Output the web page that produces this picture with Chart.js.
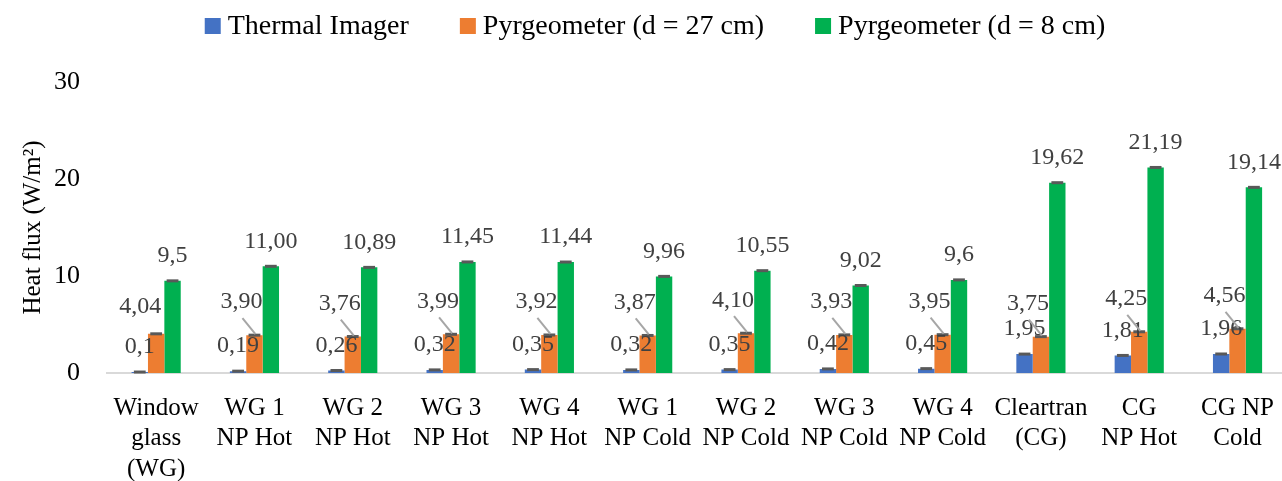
<!DOCTYPE html>
<html>
<head>
<meta charset="utf-8">
<script src="https://cdn.jsdelivr.net/npm/chart.js@4.4.1/dist/chart.umd.min.js"></script>
<style>
  html, body { margin: 0; padding: 0; background: #fff; overflow: hidden; }
  #wrap { width: 1294px; height: 481px; position: relative; }
</style>
</head>
<body>
<div id="wrap"><canvas id="c"></canvas></div>
<script>
const categories = [
  ["Window", "glass", "(WG)"],
  ["WG 1", "NP Hot"],
  ["WG 2", "NP Hot"],
  ["WG 3", "NP Hot"],
  ["WG 4", "NP Hot"],
  ["WG 1", "NP Cold"],
  ["WG 2", "NP Cold"],
  ["WG 3", "NP Cold"],
  ["WG 4", "NP Cold"],
  ["Cleartran", "(CG)"],
  ["CG", "NP Hot"],
  ["CG NP", "Cold"]
];
const seriesNames = ["Thermal Imager", "Pyrgeometer (d = 27 cm)", "Pyrgeometer (d = 8 cm)"];
const thermalImager = [0.1, 0.19, 0.26, 0.32, 0.35, 0.32, 0.35, 0.42, 0.45, 1.95, 1.81, 1.96];
const pyrgeometer27 = [4.04, 3.90, 3.76, 3.99, 3.92, 3.87, 4.10, 3.93, 3.95, 3.75, 4.25, 4.56];
const pyrgeometer8 = [9.5, 11.00, 10.89, 11.45, 11.44, 9.96, 10.55, 9.02, 9.6, 19.62, 21.19, 19.14];
const thermalLabels = ["0,1", "0,19", "0,26", "0,32", "0,35", "0,32", "0,35", "0,42", "0,45", "1,95", "1,81", "1,96"];
const pyr27Labels = ["4,04", "3,90", "3,76", "3,99", "3,92", "3,87", "4,10", "3,93", "3,95", "3,75", "4,25", "4,56"];
const pyr8Labels = ["9,5", "11,00", "10,89", "11,45", "11,44", "9,96", "10,55", "9,02", "9,6", "19,62", "21,19", "19,14"];
const yTicks = [0, 10, 20, 30];

const FONT = "'Liberation Serif', 'Times New Roman', serif";
const colors = ["#4472C4", "#ED7D31", "#00B050"];
const allLabels = [thermalLabels, pyr27Labels, pyr8Labels];

const legendPlugin = {
  id: "customLegend",
  afterDraw(chart) {
    const ctx = chart.ctx;
    ctx.save();
    ctx.font = "28px " + FONT;
    ctx.textBaseline = "middle";
    ctx.textAlign = "left";
    const box = 16, gapBT = 7, gapItem = 51, cy = 26, centerX = 655;
    const widths = chart.data.datasets.map(d => ctx.measureText(d.label).width);
    let total = widths.reduce((a, w) => a + box + gapBT + w, 0) + gapItem * (widths.length - 1);
    let x = centerX - total / 2;
    chart.data.datasets.forEach((d, i) => {
      ctx.fillStyle = d.backgroundColor;
      ctx.fillRect(x, cy - box / 2, box, box);
      ctx.fillStyle = "#000";
      ctx.fillText(d.label, x + box + gapBT, cy + 1);
      x += box + gapBT + widths[i] + gapItem;
    });
    ctx.restore();
  }
};

const labelPlugin = {
  id: "labelPlugin",
  afterDatasetsDraw(chart) {
    const ctx = chart.ctx;
    ctx.save();
    chart.data.datasets.forEach((ds, di) => {
      const meta = chart.getDatasetMeta(di);
      meta.data.forEach((bar) => {
        const w = bar.width * 0.72;
        ctx.strokeStyle = "#595959";
        ctx.lineWidth = 3;
        ctx.beginPath();
        ctx.moveTo(bar.x - w / 2, bar.y);
        ctx.lineTo(bar.x + w / 2, bar.y);
        ctx.stroke();
      });
    });
    ctx.font = "24px " + FONT;
    ctx.fillStyle = "#404040";
    ctx.textAlign = "center";
    ctx.textBaseline = "middle";
    chart.data.datasets.forEach((ds, di) => {
      const meta = chart.getDatasetMeta(di);
      meta.data.forEach((bar, i) => {
        let lx = bar.x, ly = bar.y - 25;
        if (di === 1) {
          if (i === 0) { lx = bar.x - 16; ly = bar.y - 27; }
          else {
            lx = bar.x - 13; ly = bar.y - 33;
            ctx.strokeStyle = "#a6a6a6";
            ctx.lineWidth = 2;
            ctx.beginPath();
            ctx.moveTo(lx + 1, ly + 16);
            ctx.lineTo(bar.x + 1, bar.y - 1);
            ctx.stroke();
          }
        }
        ctx.fillText(allLabels[di][i], lx, ly);
      });
    });
    ctx.restore();
  }
};

new Chart(document.getElementById("c"), {
  type: "bar",
  data: {
    labels: categories,
    datasets: [
      { label: seriesNames[0], data: thermalImager, backgroundColor: colors[0] },
      { label: seriesNames[1], data: pyrgeometer27, backgroundColor: colors[1] },
      { label: seriesNames[2], data: pyrgeometer8, backgroundColor: colors[2] }
    ]
  },
  options: {
    responsive: true,
    maintainAspectRatio: false,
    animation: false,
    datasets: { bar: { categoryPercentage: 0.5, barPercentage: 1.0 } },
    layout: { padding: { top: 82, left: 0, right: 0, bottom: 0 } },
    plugins: {
      legend: { display: false },
      tooltip: { enabled: false }
    },
    scales: {
      x: {
        grid: { display: false, drawTicks: false },
        border: { display: true, color: "#d9d9d9", width: 2 },
        ticks: {
          font: { family: FONT, size: 25, lineHeight: 1.22 },
          color: "#000",
          padding: 20,
          maxRotation: 0,
          autoSkip: false
        },
        afterFit(scale) { scale.height = 108; }
      },
      y: {
        min: 0,
        max: 30,
        afterBuildTicks(scale) { scale.ticks = yTicks.map(v => ({ value: v })); },
        grid: { display: false, drawTicks: false },
        border: { display: false },
        ticks: {
          font: { family: FONT, size: 26 },
          color: "#000",
          padding: 27
        },
        title: {
          display: true,
          text: "Heat flux (W/m²)",
          font: { family: FONT, size: 25 },
          color: "#000",
          padding: { top: 18, bottom: 0 }
        },
        afterFit(scale) { scale.width = 107; }
      }
    }
  },
  plugins: [labelPlugin, legendPlugin]
});
</script>
</body>
</html>
